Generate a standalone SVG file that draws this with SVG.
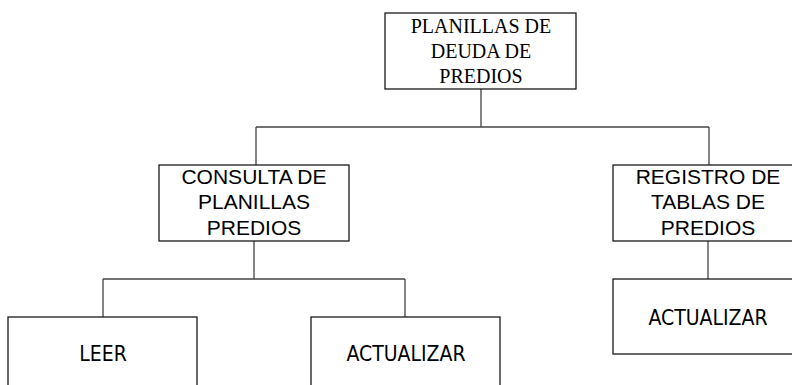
<svg xmlns="http://www.w3.org/2000/svg" width="792" height="385" viewBox="0 0 792 385">
<style>
.box{fill:#fff;stroke:#1a1a1a;stroke-width:1.3}
.ln{fill:none;stroke:#444;stroke-width:1.3}
.serif{font-family:"Liberation Serif","Times New Roman",serif;font-size:20px;fill:#000;text-anchor:middle}
.sans{font-family:"Liberation Sans",Arial,sans-serif;font-size:21px;fill:#000;text-anchor:middle}
.cond{font-family:"DejaVu Sans Condensed","DejaVu Sans",sans-serif;font-stretch:condensed;font-size:21px;fill:#000;text-anchor:middle}
</style>
<rect width="792" height="385" fill="#fff"/>
<g id="connectors">
<path class="ln" d="M481 89V127M256 127H709M256 127V165M709 127V165"/>
<path class="ln" d="M254 241V279M103 279H405M103 279V317M405 279V317"/>
<path class="ln" d="M708 241V279"/>
</g>
<g id="root">
<rect class="box" x="385" y="13" width="191" height="76"/>
<text class="serif" x="481" y="33">PLANILLAS DE</text>
<text class="serif" x="481" y="58">DEUDA DE</text>
<text class="serif" x="481" y="83">PREDIOS</text>
</g>
<g id="consulta">
<rect class="box" x="159" y="165" width="190" height="76"/>
<text class="sans" x="254" y="184">CONSULTA DE</text>
<text class="sans" x="254" y="209">PLANILLAS</text>
<text class="sans" x="254" y="235">PREDIOS</text>
</g>
<g id="registro">
<rect class="box" x="613" y="165" width="190" height="76"/>
<text class="sans" x="708" y="184">REGISTRO DE</text>
<text class="sans" x="708" y="209">TABLAS DE</text>
<text class="sans" x="708" y="235">PREDIOS</text>
</g>
<g id="actualizar-registro">
<rect class="box" x="613" y="279" width="190" height="75"/>
<text class="cond" x="708" y="325">ACTUALIZAR</text>
</g>
<g id="leer">
<rect class="box" x="8" y="317" width="189" height="80"/>
<text class="cond" x="103" y="361">LEER</text>
</g>
<g id="actualizar-consulta">
<rect class="box" x="311" y="317" width="189" height="80"/>
<text class="cond" x="406" y="361">ACTUALIZAR</text>
</g>
</svg>
